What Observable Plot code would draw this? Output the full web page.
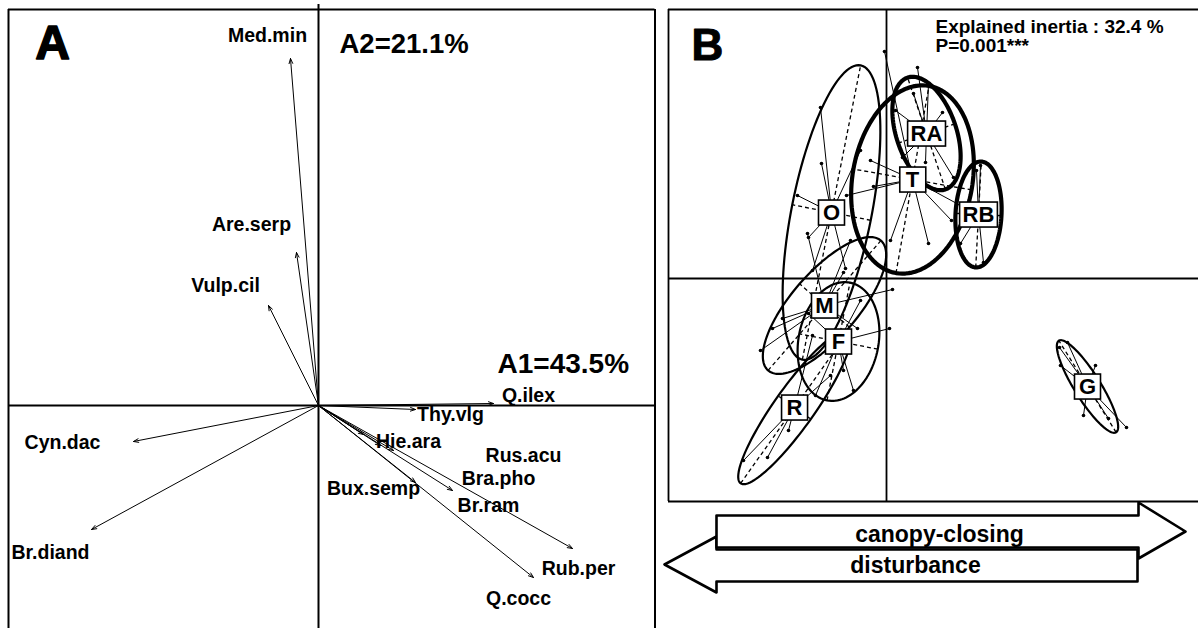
<!DOCTYPE html>
<html><head><meta charset="utf-8">
<script src="https://cdn.jsdelivr.net/npm/d3@7"></script>
<script src="https://cdn.jsdelivr.net/npm/@observablehq/plot@0.6"></script>
<style>
html,body{margin:0;padding:0;background:#fff;}
#wrap{position:relative;width:1198px;height:628px;overflow:hidden;background:#fff;}
#wrap svg{position:absolute;top:0;}
</style></head><body><div id="wrap"></div>
<script>
// ---------- Panel A : species arrows ----------
const species = ["Med.min","Are.serp","Vulp.cil","Cyn.dac","Br.diand","Q.ilex","Thy.vlg","Hie.ara","Rus.acu","Bra.pho","Br.ram","Bux.semp","Rub.per","Q.cocc"];
const arrowX  = [-0.28,-0.22,-0.50,-1.85,-2.27, 1.75, 0.97, 0.45, 0.75, 0.62, 1.34, 0.97, 2.54, 2.15];
const arrowY  = [ 3.47, 1.53, 1.00,-0.36,-1.24, 0.02,-0.04,-0.29,-0.45,-0.40,-0.85,-0.77,-1.43,-1.72];
const labelX  = [-0.51,-0.67,-0.93,-2.56,-2.68, 2.10, 1.32, 0.90, 2.05, 1.80, 1.70, 0.55, 2.60, 2.00];
const labelY  = [ 3.70, 1.81, 1.20,-0.37,-1.47, 0.10,-0.09,-0.36,-0.50,-0.735,-1.00,-0.83,-1.63,-1.93];
const axisLabelsA = ["A2=21.1%","A1=43.5%"];

// ---------- Panel B : groups (centroids, ellipses) and sites ----------
const groups    = ["O","T","RA","RB","M","F","R","G"];
const centroidX = [-0.55, 0.26, 0.40, 0.92,-0.62,-0.48,-0.92, 2.01];
const centroidY = [ 0.66, 0.99, 1.45, 0.64,-0.27,-0.63,-1.29,-1.08];
const ellA      = [ 1.50, 0.95, 0.59, 0.53, 0.86, 0.60, 0.93, 0.54];
const ellB      = [ 0.40, 0.60, 0.30, 0.23, 0.33, 0.40, 0.20, 0.13];
const ellAngle  = [ 78.8, 80.0,108.7, 87.0, 49.0, 79.0, 54.6,122.0];

const siteGroup = ["G","G","G","G","G","G","G",
  "RB","RB","RB","RB",
  "RA","RA","RA","RA","RA","RA","RA","RA",
  "T","T","T","T","T","T","T","T",
  "O","O","O","O","O","O","O",
  "M","M","M","M","M","M","M","M",
  "F","F","F","F","F","F",
  "R","R","R","R","R"];
const siteX = [1.81,1.73,1.74,2.09,1.97,2.22,2.40,
  0.94,0.97,0.74,0.90,
  0.31,0.42,0.56,0.27,0.67,0.39,0.16,0.09,
  -0.02,0.42,0.65,0.74,-0.13,-0.40,-0.16,0.04,
  -0.66,-0.65,-0.89,-0.78,-0.41,-0.74,-0.26,
  -0.79,-1.14,-1.04,0.06,-0.29,-0.43,-0.36,-1.26,
  0.03,-0.33,-0.43,-0.78,-0.26,-0.71,
  -1.43,-1.19,-0.98,-0.74,-0.56];
const siteY = [-0.64,-0.69,-0.87,-0.87,-1.37,-1.40,-1.49,
  1.13,0.16,0.35,1.08,
  2.11,1.95,1.66,1.85,1.01,1.16,1.21,1.68,
  2.27,0.35,0.58,0.73,0.92,0.83,1.18,0.38,
  1.71,1.15,0.83,0.41,0.10,0.08,1.28,
  0.45,-0.50,-0.40,-0.11,-0.50,0.06,0.38,-0.72,
  -0.50,-1.12,-0.92,-0.35,-0.22,-1.17,
  -1.82,-1.79,-1.52,-0.57,-0.97];
const infoText = ["Explained inertia : 32.4 %","P=0.001***"];

// block arrows under panel B (vertices in panel-B units)
const closingX = [-1.70, 2.52, 2.52, 2.99, 2.52, 2.52,-1.70,-1.70];
const closingY = [-2.37,-2.37,-2.24,-2.53,-2.80,-2.69,-2.69,-2.37];
const disturbX = [ 2.51,-1.70,-1.70,-2.22,-1.70,-1.70, 2.51, 2.51];
const disturbY = [-2.71,-2.71,-2.58,-2.86,-3.14,-3.03,-3.03,-2.71];
const arrowTexts = ["canopy-closing","disturbance"];

// ---------- build ----------
const FONT = '"Liberation Sans", Arial, Helvetica, sans-serif';
const baseStyle = {fontFamily: FONT, background: "transparent", overflow: "visible"};

const spData = species.map((s,i)=>({name:s, x:arrowX[i], y:arrowY[i], lx:labelX[i], ly:labelY[i]}));

const plotA = Plot.plot({
  width: 660, height: 628, margin: 0,
  x: {domain: [-3.18, 3.42], axis: null},
  y: {domain: [-2.23, 4.05], axis: null},
  style: baseStyle,
  marks: [
    Plot.ruleX([-3.10, 3.365], {y1: -2.3, y2: 3.96, stroke: "black", strokeWidth: 2}),
    Plot.ruleY([3.96], {x1: -3.10, x2: 3.365, stroke: "black", strokeWidth: 2}),
    Plot.ruleX([0], {y1: -2.3, y2: 4.01, stroke: "black", strokeWidth: 2}),
    Plot.ruleY([0], {x1: -3.10, x2: 3.365, stroke: "black", strokeWidth: 2}),
    Plot.arrow(spData, {x1: () => 0, y1: () => 0, x2: "x", y2: "y", stroke: "black", strokeWidth: 1, headLength: 8, headAngle: 40}),
    Plot.text(spData, {x: "lx", y: "ly", text: "name", fill: "black", fontSize: 19.5, fontWeight: "bold"}),
    Plot.text(["A"], {x: -2.66, y: 3.62, text: d => d, fill: "black", stroke: "black", strokeWidth: 1.5, fontSize: 48, fontWeight: "bold"}),
    Plot.text([axisLabelsA[0]], {x: 0.21, y: 3.61, text: d => d, textAnchor: "start", fill: "black", fontSize: 27.5, fontWeight: "bold"}),
    Plot.text([axisLabelsA[1]], {x: 1.79, y: 0.41, text: d => d, textAnchor: "start", fill: "black", fontSize: 28, fontWeight: "bold"})
  ]
});

const gIndex = Object.fromEntries(groups.map((g,i)=>[g,i]));
const ellipsePts = [];
const ellAxes = [];
groups.forEach((g,i)=>{
  const th = ellAngle[i]*Math.PI/180, c = Math.cos(th), s = Math.sin(th);
  const a = ellA[i], b = ellB[i], cx = centroidX[i], cy = centroidY[i];
  for (let k = 0; k <= 120; k++) {
    const t = 2*Math.PI*k/120;
    ellipsePts.push({g, x: cx + a*Math.cos(t)*c - b*Math.sin(t)*s, y: cy + a*Math.cos(t)*s + b*Math.sin(t)*c});
  }
  ellAxes.push({g, x1: cx - a*c, y1: cy - a*s, x2: cx + a*c, y2: cy + a*s});
  ellAxes.push({g, x1: cx + b*s, y1: cy - b*c, x2: cx - b*s, y2: cy + b*c});
});
const thick = new Set(["T","RA","RB"]);
const sites = siteGroup.map((g,i)=>({g, x: siteX[i], y: siteY[i], cx: centroidX[gIndex[g]], cy: centroidY[gIndex[g]]}));
const cents = groups.map((g,i)=>({g, x: centroidX[i], y: centroidY[i]}));
const closing = closingX.map((x,i)=>({x, y: closingY[i]}));
const disturb = disturbX.map((x,i)=>({x, y: disturbY[i]}));

const plotB = Plot.plot({
  width: 538, height: 628, margin: 0,
  x: {domain: [-2.26, 3.12], axis: null},
  y: {domain: [-3.50, 2.78], axis: null},
  style: baseStyle,
  marks: [
    Plot.ruleX([-2.18], {y1: -2.23, y2: 2.69, stroke: "black", strokeWidth: 1.8}),
    Plot.ruleY([2.69, -2.23], {x1: -2.18, x2: 3.2, stroke: "black", strokeWidth: 1.8}),
    Plot.ruleX([0], {y1: -2.23, y2: 2.69, stroke: "black", strokeWidth: 1.8}),
    Plot.ruleY([0], {x1: -2.18, x2: 3.2, stroke: "black", strokeWidth: 1.8}),
    Plot.link(ellAxes, {x1: "x1", y1: "y1", x2: "x2", y2: "y2", stroke: "black", strokeWidth: 1.3, strokeDasharray: "4,3"}),
    Plot.link(sites, {x1: "cx", y1: "cy", x2: "x", y2: "y", stroke: "black", strokeWidth: 1}),
    Plot.dot(sites, {x: "x", y: "y", r: 1.8, fill: "black"}),
    Plot.line(ellipsePts.filter(d => !thick.has(d.g)), {x: "x", y: "y", z: "g", stroke: "black", strokeWidth: 2.2, curve: "linear"}),
    Plot.line(ellipsePts.filter(d => thick.has(d.g)), {x: "x", y: "y", z: "g", stroke: "black", strokeWidth: 4.2, curve: "linear"}),
    Plot.text(cents, {x: "x", y: "y", text: "g", fill: "black", fontSize: 22, fontWeight: "bold", className: "grp-labels"}),
    Plot.text(["B"], {x: -1.79, y: 2.33, text: d => d, fill: "black", stroke: "black", strokeWidth: 1, fontSize: 44, fontWeight: "bold"}),
    Plot.text([infoText[0]], {x: 0.49, y: 2.52, text: d => d, textAnchor: "start", letterSpacing: 0.9, fill: "black", fontSize: 19, fontWeight: "bold"}),
    Plot.text([infoText[1]], {x: 0.49, y: 2.33, text: d => d, textAnchor: "start", letterSpacing: 0.9, fill: "black", fontSize: 19, fontWeight: "bold"}),
    Plot.line(disturb, {x: "x", y: "y", stroke: "black", fill: "white", strokeWidth: 2.6}),
    Plot.line(closing, {x: "x", y: "y", stroke: "black", fill: "white", strokeWidth: 2.6}),
    Plot.text([arrowTexts[0]], {x: 0.53, y: -2.56, text: d => d, fill: "black", fontSize: 23, fontWeight: "bold"}),
    Plot.text([arrowTexts[1]], {x: 0.29, y: -2.87, text: d => d, fill: "black", fontSize: 23, fontWeight: "bold"})
  ]
});

const wrap = document.getElementById("wrap");
plotA.style.left = "0px";
plotB.style.left = "660px";
wrap.appendChild(plotA);
wrap.appendChild(plotB);

// boxes behind group labels
plotB.querySelectorAll("g.grp-labels text").forEach(t => {
  const bb = t.getBBox();
  const w = Math.max(bb.width + 6, 26), h = 25;
  const r = document.createElementNS("http://www.w3.org/2000/svg", "rect");
  const tr = t.getAttribute("transform");
  if (tr) r.setAttribute("transform", tr);
  r.setAttribute("x", bb.x + bb.width/2 - w/2);
  r.setAttribute("y", bb.y + bb.height/2 - h/2 + 0.5);
  r.setAttribute("width", w);
  r.setAttribute("height", h);
  r.setAttribute("fill", "white");
  r.setAttribute("stroke", "black");
  r.setAttribute("stroke-width", 1.6);
  t.parentNode.insertBefore(r, t);
});
</script></body></html>
